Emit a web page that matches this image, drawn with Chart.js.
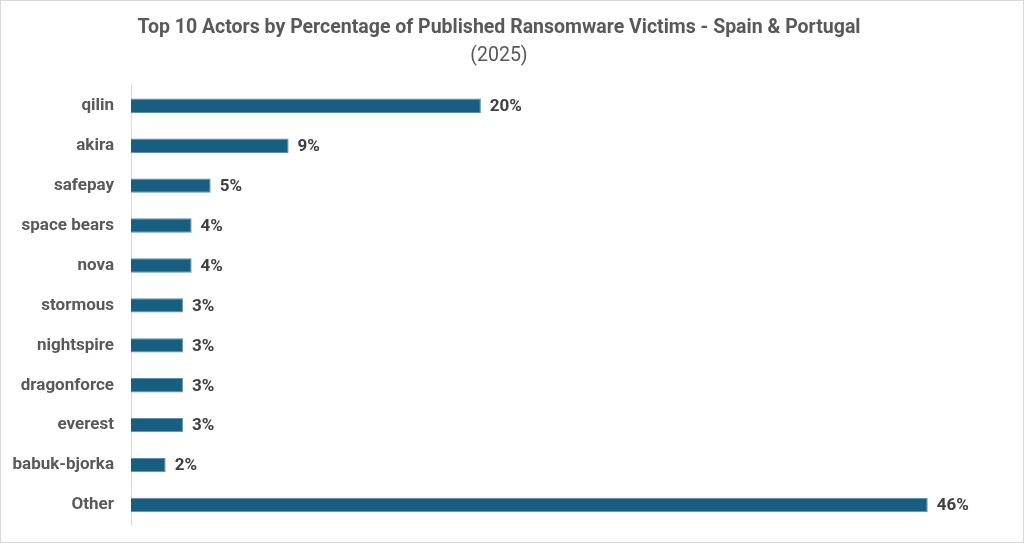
<!DOCTYPE html>
<html>
<head>
<meta charset="utf-8">
<script src="https://cdn.jsdelivr.net/npm/chart.js@4"></script>
<style>
  html, body { margin: 0; padding: 0; background: #fff; }
  #wrap { width: 1022px; height: 541px; border: 1px solid #d9d9d9; }
</style>
</head>
<body>
<div id="wrap"><canvas id="myChart" width="1022" height="541"></canvas></div>
<script>
// Data
const actors = ["qilin", "akira", "safepay", "space bears", "nova", "stormous",
                "nightspire", "dragonforce", "everest", "babuk-bjorka", "Other"];
const shares = [20.2, 9.1, 4.6, 3.5, 3.5, 3.0, 3.0, 3.0, 3.0, 2.0, 46.0];
const titleText = "Top 10 Actors by Percentage of Published Ransomware Victims - Spain & Portugal";
const subtitleText = "(2025)";

const fontFamily = "Roboto, 'Open Sans', sans-serif";

// Draw the % label after each bar
const valueLabels = {
    id: "valueLabels",
    afterDatasetsDraw(chart) {
        const ctx = chart.ctx;
        const meta = chart.getDatasetMeta(0);
        ctx.save();
        ctx.font = "bold 17px " + fontFamily;
        ctx.fillStyle = "#404040";
        ctx.textAlign = "left";
        ctx.textBaseline = "middle";
        meta.data.forEach((bar, i) => {
            ctx.fillText(Math.round(shares[i]) + "%", bar.x + 9, bar.y + 1);
        });
        ctx.restore();
    }
};

const ctx = document.getElementById("myChart").getContext("2d");
new Chart(ctx, {
    type: "bar",
    data: {
        labels: actors,
        datasets: [{
            data: shares,
            backgroundColor: "#175e80",
            borderColor: "#5b8ea8",
            borderWidth: 1,
            barPercentage: 0.72,
            categoryPercentage: 0.5
        }]
    },
    options: {
        indexAxis: "y",
        responsive: false,
        animation: false,
        layout: { padding: { left: 0, right: 26, bottom: 17, top: 0 } },
        plugins: {
            legend: { display: false },
            tooltip: { enabled: false },
            title: {
                display: true,
                text: titleText,
                color: "#595959",
                font: { family: fontFamily, size: 19.5, weight: "bold" },
                padding: { top: 15, bottom: 5 }
            },
            subtitle: {
                display: true,
                text: subtitleText,
                color: "#595959",
                font: { family: fontFamily, size: 19.5, weight: "normal" },
                padding: { top: 0, bottom: 18 }
            }
        },
        scales: {
            x: {
                display: false,
                min: 0,
                max: 50
            },
            y: {
                afterFit(scale) {
                    scale.width = 130;
                    // keep the tick labels from adding space above/below the bars
                    scale.paddingTop = 0;
                    scale.paddingBottom = 0;
                },
                grid: { display: false, drawTicks: false },
                border: { display: true, color: "#d9d9d9", width: 1 },
                ticks: {
                    color: "#595959",
                    padding: 17,
                    font: { family: fontFamily, size: 17, weight: "bold" }
                }
            }
        }
    },
    plugins: [valueLabels]
});
</script>
</body>
</html>
